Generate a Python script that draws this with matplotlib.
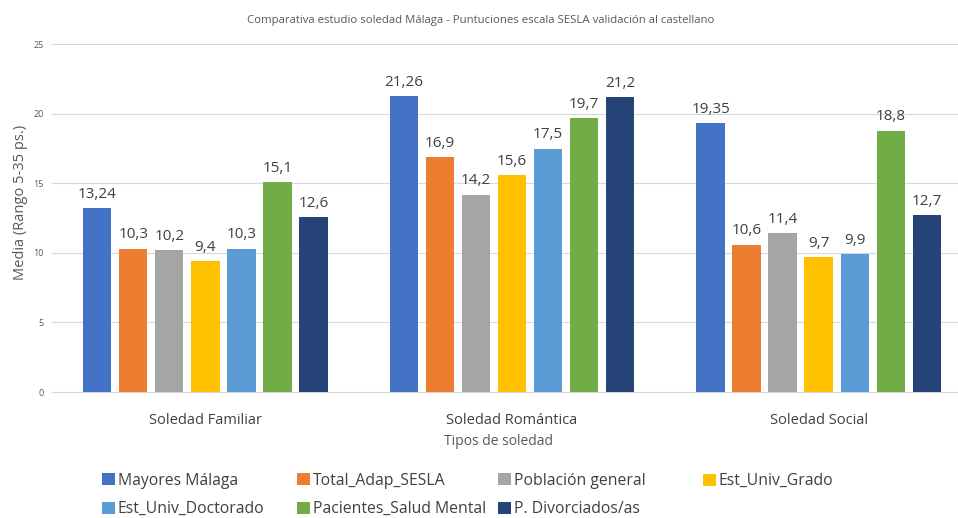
import matplotlib.pyplot as plt
import numpy as np

plt.rcParams['font.family'] = ['Open Sans', 'DejaVu Sans']

categorias = ['Soledad Familiar', 'Soledad Romántica', 'Soledad Social']
series = ['Mayores Málaga', 'Total_Adap_SESLA', 'Población general', 'Est_Univ_Grado',
          'Est_Univ_Doctorado', 'Pacientes_Salud Mental', 'P. Divorciados/as']
mayores = [13.24, 21.26, 19.35]
total_adap = [10.3, 16.9, 10.6]
poblacion = [10.2, 14.2, 11.4]
est_grado = [9.4, 15.6, 9.7]
est_doctorado = [10.3, 17.5, 9.9]
pacientes = [15.1, 19.7, 18.8]
divorciados = [12.6, 21.2, 12.7]
etiquetas = [
    ['13,24', '21,26', '19,35'],
    ['10,3', '16,9', '10,6'],
    ['10,2', '14,2', '11,4'],
    ['9,4', '15,6', '9,7'],
    ['10,3', '17,5', '9,9'],
    ['15,1', '19,7', '18,8'],
    ['12,6', '21,2', '12,7'],
]
colores = ['#4472C4', '#ED7D31', '#A5A5A5', '#FFC000', '#5B9BD5', '#70AD47', '#264478']

valores = [mayores, total_adap, poblacion, est_grado, est_doctorado, pacientes, divorciados]

W, H = 958, 518
fig = plt.figure(figsize=(W / 100, H / 100), dpi=100)
# el área de trazado se sale un poco por la derecha (recorte del original)
ax = fig.add_axes([52 / W, 1 - 392 / H, 920 / W, (392 - 44.3) / H])

x = np.arange(len(categorias))
paso = 0.1175
ancho = 0.0925
barras = []
for i, (nombre, vals) in enumerate(zip(series, valores)):
    pos = x + (i - 3) * paso
    b = ax.bar(pos, vals, width=ancho, color=colores[i], label=nombre, zorder=3)
    barras.append(b)
    for p, v, t in zip(pos, vals, etiquetas[i]):
        ax.text(p, v + 0.45, t, ha='center', va='bottom', fontsize=11, color='#404040')

ax.set_xlim(-0.5, 2.5)
ax.set_ylim(0, 25)
ax.set_yticks([0, 5, 10, 15, 20, 25])
ax.yaxis.grid(True, color='#D9D9D9', linewidth=0.8, zorder=0)
for s in ['top', 'right', 'left']:
    ax.spines[s].set_visible(False)
ax.spines['bottom'].set_color('#D9D9D9')
ax.tick_params(axis='y', length=0, labelsize=6.5, labelcolor='#595959', pad=6)
ax.tick_params(axis='x', length=0, labelsize=10.5, labelcolor='#404040', pad=15)
ax.set_xticks(x)
ax.set_xticklabels(categorias)
ax.set_ylabel('Media (Rango 5-35 ps.)', fontsize=10.5, color='#595959')
ax.yaxis.set_label_coords(-0.026, 0.546)
ax.set_xlabel('Tipos de soledad', fontsize=10, color='#595959')
ax.xaxis.set_label_coords(0.485, -0.12)
fig.text(481 / W, 1 - 20 / H,
         'Comparativa estudio soledad Málaga - Puntuciones escala SESLA validación al castellano',
         ha='center', va='center', fontsize=8.2, color='#595959')

# leyenda: una columna por cada posición, como en Excel
columnas_px = [102, 297, 498, 703]
grupos = [[0, 4], [1, 5], [2, 6], [3]]
for cx, idx in zip(columnas_px, grupos):
    yc = 495 if len(idx) == 2 else 481
    leg = fig.legend([barras[k] for k in idx], [series[k] for k in idx],
                     loc='center left', bbox_to_anchor=(cx / W, 1 - yc / H),
                     frameon=False, fontsize=11.3, handlelength=0.8, handleheight=0.8,
                     handletextpad=0.2, labelspacing=0.8, borderpad=0, borderaxespad=0)
    for t in leg.get_texts():
        t.set_color('#404040')

fig.savefig('out.png', dpi=100)
